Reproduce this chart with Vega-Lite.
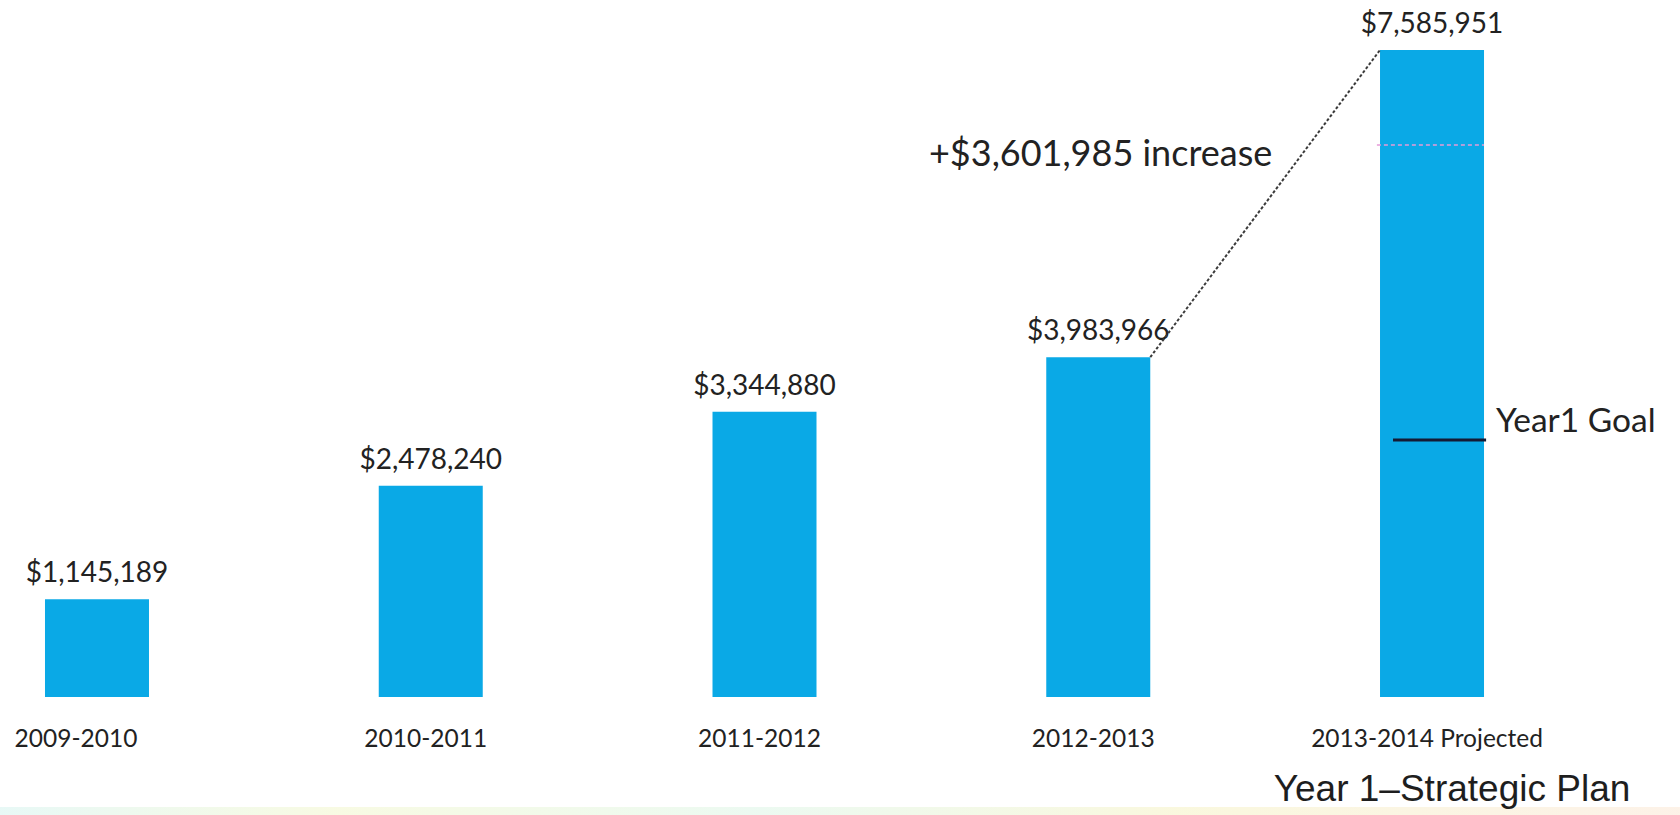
{
  "$schema": "https://vega.github.io/schema/vega-lite/v6.json",
  "width": 1680,
  "height": 815,
  "autosize": {"type": "none"},
  "padding": 0,
  "background": "#ffffff",
  "config": {"view": {"stroke": null}},
  "datasets": {
    "main": [
      {"year": "2009-2010", "amount": 1145189},
      {"year": "2010-2011", "amount": 2478240},
      {"year": "2011-2012", "amount": 3344880},
      {"year": "2012-2013", "amount": 3983966},
      {"year": "2013-2014 Projected", "amount": 7585951}
    ],
    "increase": [{"label": "+$3,601,985 increase", "year": "2012-2013", "amount": 6355000}],
    "goalText": [{"label": "Year1 Goal", "year": "2013-2014 Projected", "amount": 3224000}],
    "goal": [{"year": "2013-2014 Projected", "amount": 3013000}],
    "connector": [{"from": "2012-2013", "to": "2013-2014 Projected", "start": 3983966, "end": 7585951}],
    "marker": [{"year": "2013-2014 Projected", "amount": 6472000}],
    "footer": [{"label": "Year 1–Strategic Plan", "year": "2013-2014 Projected", "amount": -1085000}],
    "strip": [{"low": -1383500, "high": -1290000}]
  },
  "data": {"name": "main"},
  "layer": [
    {
      "data": {"name": "strip"},
      "mark": {
        "type": "rect",
        "opacity": 0.6,
        "color": {
          "gradient": "linear",
          "x1": 0, "x2": 1, "y1": 0, "y2": 0,
          "stops": [
            {"offset": 0, "color": "#d8f4f0"},
            {"offset": 0.2, "color": "#f3f7d0"},
            {"offset": 0.45, "color": "#dff6e8"},
            {"offset": 0.7, "color": "#f6f3c8"},
            {"offset": 1, "color": "#fbe9d8"}
          ]
        }
      },
      "encoding": {
        "y": {"field": "low", "type": "quantitative", "scale": {"domain": [-1383500, 8172130], "nice": false, "zero": false}, "axis": null},
        "y2": {"field": "high"}
      }
    },
    {
      "mark": {"type": "bar", "color": "#0aa9e6"},
      "encoding": {
        "x": {
          "field": "year", "type": "nominal", "sort": null,
          "scale": {"paddingInner": 0.6884, "paddingOuter": 0.361, "align": 0.1867},
          "axis": {
            "title": null, "orient": "bottom", "offset": -118,
            "domain": false, "ticks": false, "tickSize": 0,
            "labelPadding": 30, "labelAngle": 0, "labelLimit": 0,
            "labelFont": "Lato", "labelFontSize": 24.5, "labelColor": "#222222",
            "labelOffset": {"condition": {"test": "datum.value === '2009-2010'", "value": -21}, "value": -5}
          }
        },
        "y": {"field": "amount", "type": "quantitative", "scale": {"domain": [-1383500, 8172130], "nice": false, "zero": false}, "axis": null},
        "y2": {"datum": 0}
      }
    },
    {
      "mark": {"type": "text", "font": "Lato", "fontSize": 28, "baseline": "bottom", "dy": -11, "color": "#222222"},
      "encoding": {
        "x": {"field": "year", "type": "nominal", "sort": null},
        "y": {"field": "amount", "type": "quantitative"},
        "text": {"field": "amount", "type": "quantitative", "format": "$,d"}
      }
    },
    {
      "data": {"name": "connector"},
      "mark": {"type": "rule", "strokeDash": [3, 2], "strokeWidth": 2, "color": "#3a3a3a"},
      "encoding": {
        "x": {"datum": "2012-2013", "bandPosition": 1},
        "x2": {"datum": "2013-2014 Projected", "bandPosition": 0},
        "y": {"field": "start", "type": "quantitative"},
        "y2": {"field": "end"}
      }
    },
    {
      "data": {"name": "marker"},
      "mark": {"type": "rule", "strokeDash": [4, 3], "strokeWidth": 1.5, "color": "#e69ad8"},
      "encoding": {
        "x": {"datum": "2013-2014 Projected", "bandPosition": -0.03},
        "x2": {"datum": "2013-2014 Projected", "bandPosition": 1},
        "y": {"field": "amount", "type": "quantitative"}
      }
    },
    {
      "data": {"name": "goal"},
      "mark": {"type": "rule", "strokeWidth": 3, "color": "#151a33"},
      "encoding": {
        "x": {"datum": "2013-2014 Projected", "bandPosition": 0.125},
        "x2": {"datum": "2013-2014 Projected", "bandPosition": 1.02},
        "y": {"field": "amount", "type": "quantitative"}
      }
    },
    {
      "data": {"name": "goalText"},
      "mark": {"type": "text", "font": "Lato", "fontSize": 33.5, "align": "left", "baseline": "middle", "color": "#222222", "dx": 12},
      "encoding": {
        "x": {"field": "year", "type": "nominal", "sort": null, "bandPosition": 1},
        "y": {"field": "amount", "type": "quantitative"},
        "text": {"field": "label"}
      }
    },
    {
      "data": {"name": "increase"},
      "mark": {"type": "text", "font": "Lato", "fontSize": 36, "align": "right", "baseline": "middle", "color": "#222222", "dx": 174},
      "encoding": {
        "x": {"field": "year", "type": "nominal", "sort": null},
        "y": {"field": "amount", "type": "quantitative"},
        "text": {"field": "label"}
      }
    },
    {
      "data": {"name": "footer"},
      "mark": {"type": "text", "font": "Liberation Sans", "fontSize": 37, "align": "center", "baseline": "middle", "color": "#1e1e1e", "dx": 20},
      "encoding": {
        "x": {"field": "year", "type": "nominal", "sort": null},
        "y": {"field": "amount", "type": "quantitative"},
        "text": {"field": "label"}
      }
    }
  ]
}
